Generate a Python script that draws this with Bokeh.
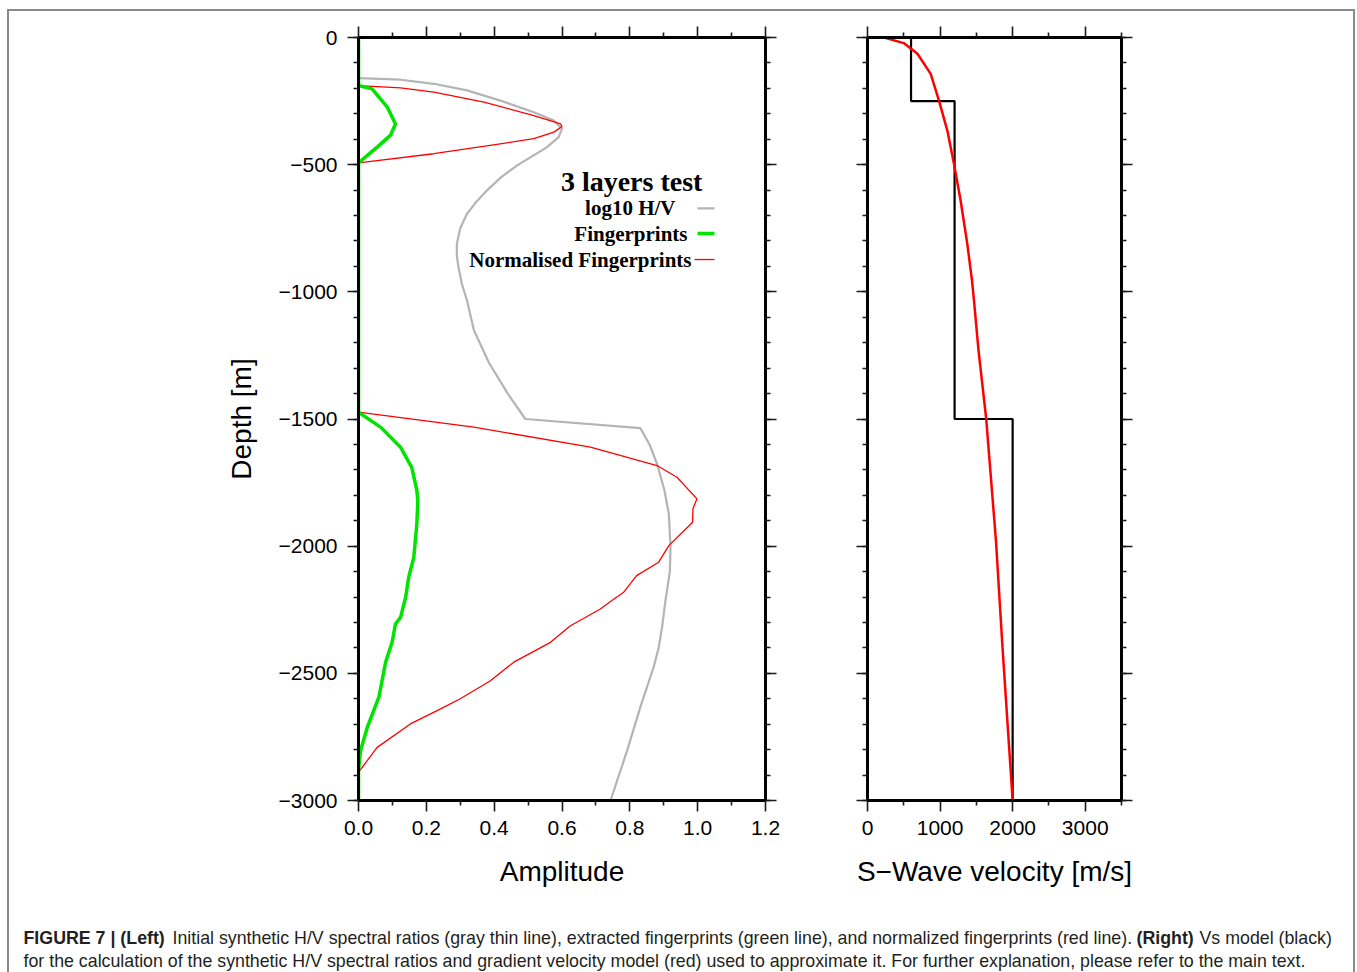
from bokeh.plotting import figure
from bokeh.layouts import column, row
from bokeh.models import Range1d, LinearAxis, FixedTicker, CustomJSTickFormatter, Label, Arrow
from bokeh.embed import file_html
from bokeh.resources import INLINE

# ---------------- data ----------------
# Left panel: log10 H/V (gray)
hv_depth = [-160, -166, -182, -208, -248, -294, -326, -359, -392, -431, -503, -550, -601,
            -650, -693, -750, -811, -860, -904, -970, -1034, -1150, -1280, -1400, -1500,
            -1536, -1600, -1676, -1780, -1873, -2004, -2100, -2214, -2319, -2400, -2476,
            -2633, -2804, -3000]
hv_amp = [0.0, 0.124, 0.222, 0.32, 0.418, 0.517, 0.576, 0.60, 0.59, 0.556, 0.468, 0.42, 0.379,
          0.345, 0.32, 0.30, 0.29, 0.29, 0.295, 0.305, 0.32, 0.34, 0.385, 0.44, 0.492,
          0.831, 0.858, 0.88, 0.902, 0.915, 0.92, 0.918, 0.905, 0.895, 0.885, 0.87,
          0.831, 0.792, 0.743]

# Fingerprints (green)
fp_depth = [0, -189, -202, -274, -340, -385, -431, -493, -1473, -1532, -1611, -1690, -1781,
            -1820, -1912, -2044, -2122, -2201, -2280, -2306, -2378, -2456, -2594, -2712,
            -2804, -2880, -3000]
fp_amp = [0.0, 0.0, 0.04, 0.085, 0.109, 0.094, 0.055, 0.0, 0.0, 0.065, 0.124, 0.157, 0.172,
          0.175, 0.172, 0.163, 0.148, 0.139, 0.124, 0.109, 0.099, 0.08, 0.06, 0.026,
          0.006, 0.0, 0.0]

# Normalised fingerprints (red)
nfp_depth = [0, -189, -198, -215, -254, -307, -340, -350, -372, -398, -418, -457, -493,
             -1473, -1532, -1611, -1683, -1729, -1814, -1853, -1906, -1998, -2063, -2116,
             -2181, -2214, -2247, -2313, -2378, -2456, -2529, -2600, -2640, -2699, -2791,
             -2889, -3000]
nfp_amp = [0.0, 0.0, 0.124, 0.222, 0.37, 0.517, 0.596, 0.60, 0.576, 0.517, 0.418, 0.222, 0.0,
           0.0, 0.34, 0.684, 0.88, 0.939, 0.998, 0.986, 0.985, 0.915, 0.885, 0.82,
           0.782, 0.747, 0.713, 0.625, 0.566, 0.458, 0.389, 0.30, 0.242, 0.153, 0.055,
           0.0, 0.0]

# Right panel: layered Vs model (black)
layer_top = [0, -250, -1500]
layer_bottom = [-250, -1500, -3000]
layer_vs = [600, 1200, 2000]

# Gradient velocity model (red)
grad_depth = [0, -22, -64, -143, -248, -366, -497, -641, -811, -956, -1034, -1231, -1497,
              -1978, -2397, -3000]
grad_vs = [229, 500, 688, 871, 985, 1100, 1192, 1283, 1375, 1440, 1467, 1530, 1635,
           1770, 1860, 2000]

# Ticks
depth_ticks = [-3000, -2500, -2000, -1500, -1000, -500, 0]
depth_minor = list(range(-3000, 1, 100))
amp_ticks = [0.0, 0.2, 0.4, 0.6, 0.8, 1.0, 1.2]
amp_minor = [0.1, 0.3, 0.5, 0.7, 0.9, 1.1]
vel_ticks = [0, 1000, 2000, 3000]
vel_minor = [500, 1500, 2500, 3500]

legend_title = "3 layers test"
legend_labels = ["log10 H/V", "Fingerprints", "Normalised Fingerprints"]

# ---------------- styling helpers ----------------
FONT = "Liberation Sans"
EMPTY = "return '';"
MINUS = "return tick < 0 ? '\u2212' + Math.abs(tick) : String(tick);"
FIXED1 = "return tick.toFixed(1);"


def style_axis(ax, ticks, minor, code, standoff=9):
    ax.ticker = FixedTicker(ticks=ticks, minor_ticks=minor)
    ax.formatter = CustomJSTickFormatter(code=code)
    ax.axis_line_width = 3
    ax.axis_line_color = "black"
    ax.major_tick_out = 11
    ax.major_tick_in = 0
    ax.minor_tick_out = 5
    ax.minor_tick_in = 0
    ax.major_tick_line_width = 1.6
    ax.minor_tick_line_width = 1.6
    ax.major_tick_line_color = "#1a1a1a"
    ax.minor_tick_line_color = "#1a1a1a"
    ax.major_label_text_font = FONT
    ax.major_label_text_font_size = "21px"
    ax.major_label_text_color = "black"
    ax.major_label_standoff = standoff
    ax.axis_label_text_font = FONT
    ax.axis_label_text_font_size = "28px"
    ax.axis_label_text_font_style = "normal"
    ax.axis_label_text_color = "black"


def make_fig(width, x_range, mb_left, mb_right):
    p = figure(width=width, height=895, x_range=x_range, y_range=Range1d(-3000, 0),
               output_backend="svg", toolbar_location=None,
               min_border_left=mb_left, min_border_right=mb_right,
               min_border_top=26, min_border_bottom=106,
               background_fill_color="white", border_fill_color="white")
    p.grid.visible = False
    p.outline_line_color = "black"
    p.outline_line_width = 3
    return p


# ---------------- left panel ----------------
p1 = make_fig(806, Range1d(0, 1.2), 349, 50)
style_axis(p1.xaxis[0], amp_ticks, amp_minor, FIXED1, standoff=9)
style_axis(p1.yaxis[0], depth_ticks, depth_minor, MINUS, standoff=10)
p1.xaxis[0].axis_label = "Amplitude"
p1.xaxis[0].axis_label_standoff = 18
p1.yaxis[0].axis_label = "Depth [m]"
p1.yaxis[0].axis_label_standoff = 19
top1 = LinearAxis()
style_axis(top1, amp_ticks, amp_minor, EMPTY)
p1.add_layout(top1, "above")
right1 = LinearAxis()
style_axis(right1, depth_ticks, depth_minor, EMPTY)
p1.add_layout(right1, "right")

p1.line(hv_amp, hv_depth, line_color="#b4b4b4", line_width=2.2)
p1.line(nfp_amp, nfp_depth, line_color="#ff0000", line_width=1.3)
p1.line(fp_amp, fp_depth, line_color="#00e400", line_width=3.5)

# legend (GMT style: text on the left, key on the right)
p1.add_layout(Label(x=1.014, y=-566, text=legend_title, text_align="right",
                    text_baseline="middle", text_font="Liberation Serif",
                    text_font_style="bold", text_font_size="28px", text_color="black"))
leg_right = [0.9346, 0.970, 0.9818]
leg_y = [-672, -771, -873]
leg_colors = ["#b4b4b4", "#00e400", "#ff0000"]
leg_widths = [2.2, 3.5, 1.3]
leg_x0 = [0.9995, 0.9995, 0.9907]
for lab, xr, yy, c, w, x0 in zip(legend_labels, leg_right, leg_y, leg_colors, leg_widths, leg_x0):
    p1.add_layout(Label(x=xr, y=yy, text=lab, text_align="right", text_baseline="middle",
                        text_font="Liberation Serif", text_font_style="bold",
                        text_font_size="21px", text_color="black"))
    p1.add_layout(Arrow(end=None, x_start=x0, y_start=yy, x_end=1.0496, y_end=yy,
                        line_color=c, line_width=w))

# ---------------- right panel ----------------
p2 = make_fig(538, Range1d(0, 3500), 52, 232)
style_axis(p2.xaxis[0], vel_ticks, vel_minor, "return String(tick);", standoff=9)
style_axis(p2.yaxis[0], depth_ticks, depth_minor, EMPTY)
p2.xaxis[0].axis_label = "S\u2212Wave velocity [m/s]"
p2.xaxis[0].axis_label_standoff = 18
top2 = LinearAxis()
style_axis(top2, vel_ticks, vel_minor, EMPTY)
p2.add_layout(top2, "above")
right2 = LinearAxis()
style_axis(right2, depth_ticks, depth_minor, EMPTY)
p2.add_layout(right2, "right")

step_x, step_y = [], []
for t, b, v in zip(layer_top, layer_bottom, layer_vs):
    step_x += [v, v]
    step_y += [t, b]
p2.line(step_x, step_y, line_color="black", line_width=2.2)
p2.line(grad_vs, grad_depth, line_color="#ff0000", line_width=2.5)

# ---------------- caption ----------------
p3 = figure(width=1344, height=66, x_range=Range1d(9, 1353), y_range=Range1d(972, 906),
            output_backend="svg", toolbar_location=None, x_axis_location=None,
            y_axis_location=None, min_border=0, outline_line_color=None,
            background_fill_color="white", border_fill_color="white")
p3.grid.visible = False
cap_size = "17.8px"
cap_color = "#231f20"
caption_parts = [
    (23, 937, "FIGURE 7 | (Left)", "bold"),
    (172, 937, "Initial synthetic H/V spectral ratios (gray thin line), extracted fingerprints "
               "(green line), and normalized fingerprints (red line).", "normal"),
    (1136, 937, "(Right)", "bold"),
    (1199, 937, "Vs model (black)", "normal"),
    (23, 960, "for the calculation of the synthetic H/V spectral ratios and gradient velocity "
              "model (red) used to approximate it. For further explanation, please refer to "
              "the main text.", "normal"),
]
for x, y, t, st in caption_parts:
    p3.add_layout(Label(x=x, y=y, text=t, text_font=FONT, text_font_size=cap_size,
                        text_font_style=st, text_color=cap_color, text_baseline="alphabetic"))

layout = column(row(p1, p2), p3,
                styles={"margin-left": "7px", "margin-top": "9px",
                        "border-left": "2px solid #8a8a8a", "border-top": "2px solid #8a8a8a",
                        "border-right": "2px solid #8a8a8a", "box-sizing": "content-box"})

with open("out.html", "w", encoding="utf-8") as f:
    f.write(file_html(layout, INLINE))
